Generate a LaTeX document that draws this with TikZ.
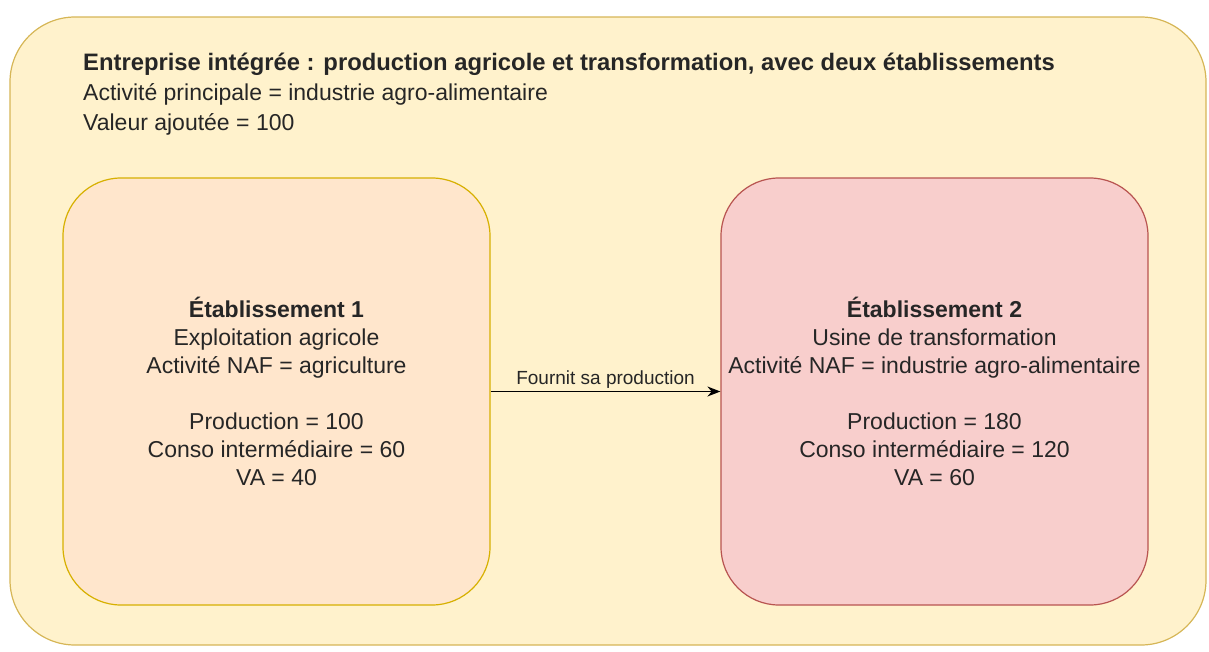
\documentclass[tikz,border=0pt]{standalone}
\usepackage{fontspec}
\setmainfont{Liberation Sans}
\usetikzlibrary{arrows.meta,positioning}
\definecolor{entfill}{HTML}{FFF2CC}
\definecolor{entdraw}{HTML}{D6B656}
\definecolor{agrifill}{HTML}{FFE6CC}
\definecolor{agridraw}{HTML}{D7B000}
\definecolor{usinefill}{HTML}{F8CECC}
\definecolor{usinedraw}{HTML}{B85450}
\tikzset{
  etabbox/.style={rounded corners=58pt, minimum width=427pt, minimum height=427pt, line width=1.2pt,
    align=center, font=\fontsize{23}{28}\selectfont, text=black!85},
  headtext/.style={align=left, anchor=north west, font=\fontsize{23}{30}\selectfont, inner sep=0pt, text=black!85}
}
\begin{document}
\begin{tikzpicture}[x=1pt, y=-1pt, >={Stealth[length=13pt, width=10pt]}]
  \useasboundingbox (0,0) rectangle (1209,651);
  % entreprise
  \draw[fill=entfill, draw=entdraw, line width=1.2pt, rounded corners=65pt] (10,17) rectangle (1206,645);
  \node[headtext] (titre) at (83,53) {{\fontsize{23.8}{30}\selectfont\bfseries Entreprise intégrée : production agricole et transformation, avec deux établissements}\\
    Activité principale = industrie agro-alimentaire\\
    Valeur ajoutée = 100};
  % etablissements
  \node[etabbox, fill=agrifill, draw=agridraw] (etab1) at (276.5,391.5)
    {\textbf{Établissement 1}\\Exploitation agricole\\Activité NAF = agriculture\\[28pt]
    Production = 100\\Conso intermédiaire = 60\\VA = 40};
  \node[etabbox, fill=usinefill, draw=usinedraw] (etab2) at (934.5,391.5)
    {\textbf{Établissement 2}\\Usine de transformation\\Activité NAF = industrie agro-alimentaire\\[28pt]
    Production = 180\\Conso intermédiaire = 120\\VA = 60};
  % flux
  \draw[->, line width=1.4pt] (etab1) -- (etab2)
    node[midway, above, font=\fontsize{19}{22}\selectfont, inner sep=2pt, text=black!85] (flux) {Fournit sa production};
\end{tikzpicture}
\end{document}
